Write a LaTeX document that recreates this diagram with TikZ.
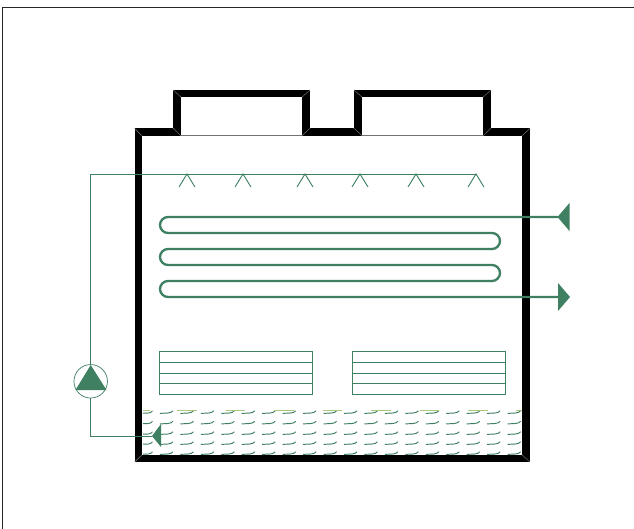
\documentclass[tikz,border=0pt]{standalone}
\definecolor{pipe}{HTML}{3F7F62}
\definecolor{lime}{HTML}{A9C77F}
\tikzset{
  wall/.style={draw=black,line width=7.5pt,miter limit=10,line join=miter},
  seam/.style={draw=black!50,line width=0.4pt},
  thinpipe/.style={draw=pipe,line width=0.9pt},
  coil/.style={draw=pipe,line width=2.3pt},
  tip/.style={fill=pipe,draw=none},
  ripple/.style={draw=pipe,line width=0.95pt},
  fringe/.style={draw=lime,line width=1pt},
  pumpbody/.style={circle,draw=pipe,line width=0.7pt,fill=white,minimum size=33.5pt,inner sep=0pt}
}
\begin{document}
\begin{tikzpicture}[x=1pt,y=-1pt]
\useasboundingbox (0,0) rectangle (634,529);
\fill[white] (0,0) rectangle (634,529);
% outer frame
\draw[line width=0.9pt,black!85] (2.5,529) -- (2.5,7.7) -- (634,7.7);
% water ripples
\foreach \r in {412,422.5,433,443,453}{
  \foreach \c in {0,...,18}{
    \pgfmathsetmacro{\xa}{139.5+20.45*\c}
    \ifnum\c=0
      \draw[ripple] (143,\r+1.2) -- (\xa+9,\r+1) .. controls (\xa+11,\r+0.8) and (\xa+12,\r) .. (\xa+13,\r-1.2);
    \else
      \draw[ripple] (\xa,\r+1.4) -- (\xa+8,\r+1) .. controls (\xa+10.5,\r+0.8) and (\xa+12,\r) .. (\xa+13,\r-1.2);
    \fi
  }
}
\foreach \c in {0,...,6}{
  \pgfmathsetmacro{\xa}{177+48.55*\c}
  \draw[fringe] (\xa,410) -- (\xa+19.5,410);
}
\draw[fringe] (143,410) -- (150,410);
\draw[fringe] (516,410) -- (522,410);
% fill packs
\foreach \xa in {159,352}{
  \draw[thinpipe] (\xa,351) rectangle (\xa+153,394);
  \foreach \r in {362,373,383}{\draw[thinpipe] (\xa,\r) -- (\xa+153,\r);}
}
% casing
\draw[wall] (138.25,458.5) -- (138.25,132) -- (177,132) -- (177,93.5) -- (306,93.5) -- (306,132) -- (358,132) -- (358,93.5) -- (487,93.5) -- (487,132) -- (526,132) -- (526,458.5) -- cycle;
\draw[seam] (134.5,462.2) -- (142,454.8) (134.5,128.2) -- (142,135.8) (173.2,90) -- (181,97.2) (181,135.8) -- (173.2,128.2)
  (310,90) -- (302,97.2) (302,135.8) -- (310,128.2) (354,90) -- (362,97.2) (362,135.8) -- (354,128.2)
  (491,90) -- (483,97.2) (483,135.8) -- (491,128.2) (530,128.2) -- (522,135.8) (530,462.2) -- (522,454.8);
\draw[line width=0.8pt,black!55] (181,135.8) -- (302,135.8) (362,135.8) -- (483,135.8);
% coil
\coordinate (coilin) at (558,217);
\coordinate (coilout) at (558,297);
\draw[coil] (coilin) -- (168,217) arc[start angle=270,end angle=90,radius=8] -- (492,233) arc[start angle=-90,end angle=90,radius=8] -- (168,249) arc[start angle=270,end angle=90,radius=8] -- (492,265) arc[start angle=-90,end angle=90,radius=8] -- (168,281) arc[start angle=270,end angle=90,radius=8] -- (coilout);
\fill[tip] (557.5,217) -- (569.5,203) -- (569.5,231) -- cycle;
\fill[tip] (570,297) -- (558,283) -- (558,311) -- cycle;
% spray and pump circuit
\node[pumpbody] (pump) at (90.7,381.3) {};
\coordinate (sprayend) at (477,174);
\coordinate (basin) at (152,436);
\draw[thinpipe] (pump.north) -- (90.7,174) -- (sprayend);
\draw[thinpipe] (pump.south) -- (90.7,436) -- (basin);
\fill[tip] (90.7,365) -- (106.5,390) -- (75.5,390) -- cycle;
\fill[tip] (152,436) -- (161,424) -- (161,447) -- cycle;
\foreach \xa in {187,243,305,360,416,476}{
  \draw[thinpipe] (\xa-8,187) -- (\xa,174) -- (\xa+8,187);
}
\end{tikzpicture}
\end{document}
